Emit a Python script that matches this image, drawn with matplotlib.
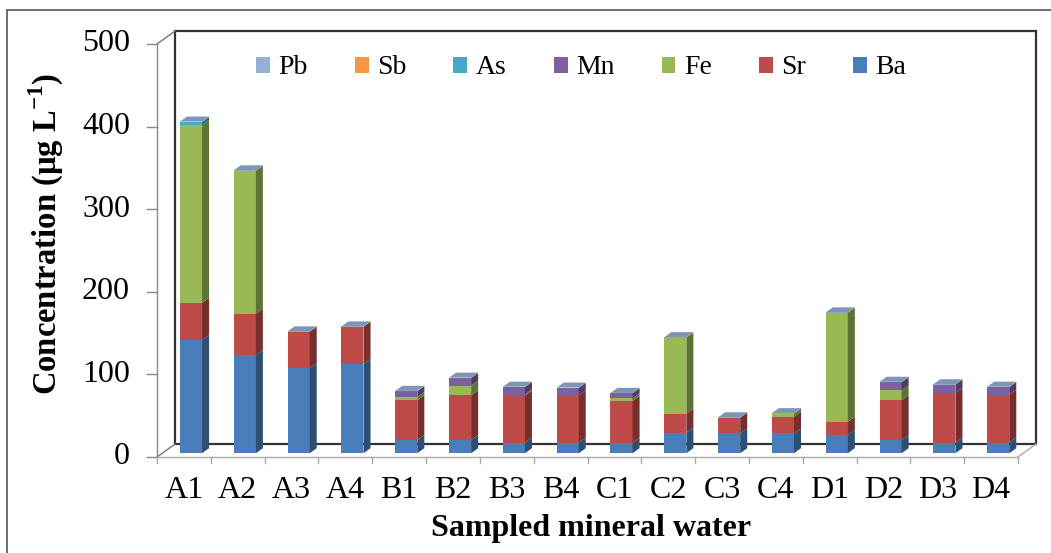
import numpy as np
import matplotlib
matplotlib.use("Agg")
import matplotlib.pyplot as plt
from matplotlib.patches import Polygon, Rectangle, Patch
from matplotlib.colors import to_rgb

plt.rcParams["font.family"] = ["Liberation Serif", "DejaVu Serif"]
plt.rcParams["mathtext.fontset"] = "custom"
plt.rcParams["mathtext.rm"] = "Liberation Serif"
plt.rcParams["mathtext.bf"] = "Liberation Serif:bold"

# valores (ug/L)
samples = ["A1", "A2", "A3", "A4", "B1", "B2", "B3", "B4",
           "C1", "C2", "C3", "C4", "D1", "D2", "D3", "D4"]
Ba = [137, 119, 103, 108, 16, 16, 13, 13, 13, 25, 24, 24, 22, 16, 13, 13]
Sr = [45, 50, 44, 45, 48, 54, 57, 57, 50, 23, 19, 20, 16, 48, 60, 58]
Fe = [215, 173, 0, 0, 4, 12, 1, 0, 3.5, 92, 0, 4, 132, 12, 0, 0]
Mn = [0, 0, 0, 0, 7, 9, 9, 9, 6, 0, 0, 0, 0, 10, 10, 9]
As = [4, 0, 0, 0, 0, 0, 0, 0, 0, 0, 0, 0, 0, 0, 0, 0]
Sb = [0] * 16
Pb = [0.5] * 16

series = [("Ba", Ba, "#4A7EBB"), ("Sr", Sr, "#BE4B48"), ("Fe", Fe, "#98B954"),
          ("Mn", Mn, "#7D60A0"), ("As", As, "#46AAC5"), ("Sb", Sb, "#F79646"),
          ("Pb", Pb, "#93B1D6")]
legend_order = ["Pb", "Sb", "As", "Mn", "Fe", "Sr", "Ba"]

# geometria do "3D" (em unidades de dados)
DDX, DDY = 0.335, 15.7      # profundidade total da parede
F0, F1 = 0.29, 0.68         # frente / fundo das barras
BAR_LEFT, BAR_W = 0.33, 0.41
YMAX = 500


def shade(c, k):
    r, g, b = to_rgb(c)
    return (r * k, g * k, b * k)


W, H = 1051, 553
fig = plt.figure(figsize=(W / 100, H / 100), dpi=100)
ax = fig.add_axes([157 / W, (H - 457) / H, 861 / W, 413 / H])
ax.set_xlim(0, len(samples))
ax.set_ylim(0, YMAX)
ax.axis("off")

n = len(samples)
kw = dict(clip_on=False)

# parede do fundo e piso
ax.add_patch(Polygon([(DDX, DDY), (n + DDX, DDY), (n + DDX, YMAX + DDY), (DDX, YMAX + DDY)],
                     closed=True, facecolor="white", edgecolor="#333333", lw=1.6, zorder=1, **kw))
ax.plot([0, DDX], [YMAX, YMAX + DDY], color="#777777", lw=1.0, zorder=1, **kw)
ax.plot([0, DDX], [0, DDY], color="#777777", lw=1.0, zorder=1, **kw)
ax.plot([n, n + DDX], [0, DDY], color="#aaaaaa", lw=1.0, zorder=1, **kw)
ax.plot([0, 0], [0, YMAX], color="#888888", lw=1.0, zorder=1, **kw)
ax.plot([0, n], [0, 0], color="#aaaaaa", lw=1.0, zorder=1, **kw)

# ticks
tick_len_y = 10 / 53.8
for v in range(0, YMAX + 1, 100):
    ax.plot([-tick_len_y, 0], [v, v], color="#888888", lw=1.0, **kw)
    ax.text(-0.5, v, str(v), ha="right", va="center", fontsize=23)
for i in range(n + 1):
    ax.plot([i, i], [0, -7.5], color="#aaaaaa", lw=1.0, **kw)
for i, s in enumerate(samples):
    ax.text(i + 0.5, -41, s, ha="center", va="center", fontsize=23)

# barras empilhadas
for i in range(n):
    x0 = i + BAR_LEFT + F0 * DDX
    x1 = x0 + BAR_W
    ox, oy = (F1 - F0) * DDX, (F1 - F0) * DDY
    base = F0 * DDY
    bottom = 0.0
    top_color = None
    for name, vals, col in series:
        v = vals[i]
        if v <= 0:
            continue
        y0, y1 = base + bottom, base + bottom + v
        ax.add_patch(Polygon([(x0, y0), (x1, y0), (x1, y1), (x0, y1)], closed=True,
                             facecolor=col, edgecolor="none", zorder=3, **kw))
        ax.add_patch(Polygon([(x1, y0), (x1 + ox, y0 + oy), (x1 + ox, y1 + oy), (x1, y1)],
                             closed=True, facecolor=shade(col, 0.62), edgecolor="none",
                             zorder=3, **kw))
        bottom += v
        top_color = col
    yt = base + bottom
    ax.add_patch(Polygon([(x0, yt), (x1, yt), (x1 + ox, yt + oy), (x0 + ox, yt + oy)],
                         closed=True, facecolor=shade(top_color, 0.85), edgecolor="none",
                         zorder=3, **kw))

ax.text(-2.05, 270, r"Concentration (µg L$^{\mathbf{-1}}$)", rotation=90, ha="center",
        va="center", fontsize=23.5, fontweight="bold")
ax.text(8.07, -86, "Sampled mineral water", ha="center", va="center",
        fontsize=23, fontweight="bold")

colors = {name: col for name, _, col in series}
handles = [Patch(facecolor=colors[nm], edgecolor="none", label=nm) for nm in legend_order]
fig.legend(handles=handles, loc="center", bbox_to_anchor=(581 / W, (H - 68) / H), ncol=7,
           frameon=False, fontsize=20, handlelength=0.5, handleheight=0.5,
           handletextpad=0.3, columnspacing=1.7)

# moldura da figura
fig.patches.append(Rectangle((7 / W, -0.1), 1.2, (H - 10) / H + 0.1, transform=fig.transFigure,
                             facecolor="none", edgecolor="#555555", lw=1.2))

plt.savefig("out.png", dpi=100)
plt.close()
